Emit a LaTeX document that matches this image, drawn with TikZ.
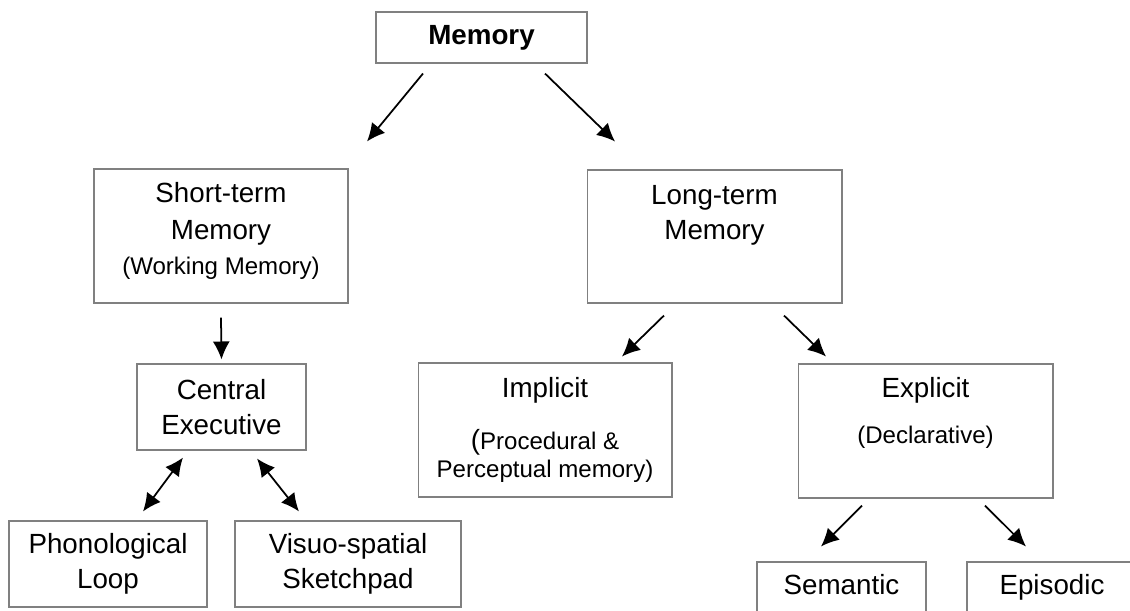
\documentclass[tikz,border=0pt]{standalone}
\usepackage{fontspec}
\setmainfont{Liberation Sans}
\usepackage{xcolor}
\usepackage{tikz}
\usetikzlibrary{calc,arrows.meta}

\newcommand{\mtext}{\fontsize{15.8}{19.9}\selectfont}
\newcommand{\stext}{\fontsize{13.7}{16.5}\selectfont}

\begin{document}
\begin{tikzpicture}[
        x=0.02cm, y=-0.02cm,
        box/.style = {draw=gray, line width=0.6pt, rectangle, inner sep=0pt, align=center, font=\mtext},
        txt/.style = {align=center, font=\mtext, inner sep=0pt},
        arrow/.style = {-{Latex[length=0.36cm,width=0.34cm]}, line width=1pt},
        dblarrow/.style = {{Latex[length=0.36cm,width=0.34cm]}-{Latex[length=0.36cm,width=0.34cm]}, line width=1pt}
    ]
    \useasboundingbox (0,0) rectangle (1130,610);
    \clip (0,0) rectangle (1130,610);

    % Memory at the top
    \node[box, minimum width=4.22cm, minimum height=1.02cm] (mem) at (481.5,37.5) {\bfseries Memory};

    % Second row
    \node[box, minimum width=5.08cm, minimum height=2.68cm] (stm) at (221,236) {};
    \node[txt] (stmtext) at (221,231) {Short-term\\[1pt]Memory\\[0pt]{\stext (Working Memory)}};
    \node[box, minimum width=5.1cm, minimum height=2.66cm] (ltm) at (714.5,236.5) {};
    \node[txt] (ltmtext) at (714.5,215) {Long-term\\Memory};

    % Working memory parts
    \node[box, minimum width=3.38cm, minimum height=1.72cm] (ce) at (221.5,407) {Central\\Executive};
    \node[box, minimum width=3.96cm, minimum height=1.72cm] (loop) at (108,564) {Phonological\\Loop};
    \node[box, minimum width=4.52cm, minimum height=1.72cm] (pad) at (348,564) {Visuo-spatial\\Sketchpad};

    % Long-term memory parts
    \node[box, minimum width=5.08cm, minimum height=2.68cm] (imp) at (545,430) {Implicit\\[10pt]{\mtext(}{\stext Procedural \&}\\[-4pt]{\stext Perceptual memory)}};
    \node[box, minimum width=5.1cm, minimum height=2.68cm] (exp) at (925.5,431) {};
    \node[txt] (exptext) at (925.5,413) {Explicit\\[6pt]{\stext (Declarative)}};
    \node[box, minimum width=3.38cm, minimum height=1.0cm, text depth=0.25em] (sem) at (841.5,587) {Semantic};
    \node[box, minimum width=3.4cm, minimum height=1.0cm, text depth=0.25em] (epi) at (1052,587) {Episodic};

    % Arrows
    \draw[arrow] ([xshift=-1.17cm, yshift=-0.2cm]mem.south) -- ([xshift=2.92cm, yshift=0.54cm]stm.north);
    \draw[arrow] ([xshift=1.27cm, yshift=-0.2cm]mem.south) -- ([xshift=-1.99cm, yshift=0.56cm]ltm.north);
    \draw[arrow] ([yshift=-0.28cm]stm.south) -- ([yshift=0.08cm]ce.north);
    \draw[dblarrow] ([xshift=-0.77cm, yshift=-0.14cm]ce.south) -- ([xshift=0.7cm, yshift=0.18cm]loop.north);
    \draw[dblarrow] ([xshift=0.71cm, yshift=-0.16cm]ce.south) -- ([xshift=-0.98cm, yshift=0.18cm]pad.north);
    \draw[arrow] ([xshift=-1.01cm, yshift=-0.24cm]ltm.south) -- ([xshift=1.54cm, yshift=0.12cm]imp.north);
    \draw[arrow] ([xshift=1.39cm, yshift=-0.24cm]ltm.south) -- ([xshift=-1.99cm, yshift=0.14cm]exp.north);
    \draw[arrow] ([xshift=-1.27cm, yshift=-0.14cm]exp.south) -- ([xshift=-0.41cm, yshift=0.3cm]sem.north);
    \draw[arrow] ([xshift=1.19cm, yshift=-0.14cm]exp.south) -- ([xshift=-0.52cm, yshift=0.3cm]epi.north);

\end{tikzpicture}
\end{document}
